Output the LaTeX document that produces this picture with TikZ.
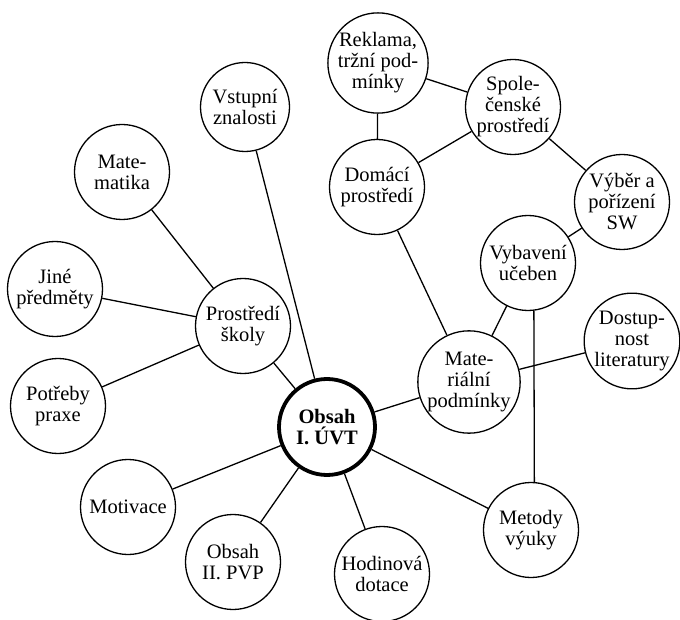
\documentclass[tikz,border=0pt]{standalone}
\usepackage{fontspec}
\setmainfont{Liberation Serif}
\begin{document}
\begin{tikzpicture}[x=1pt,y=-1pt,line width=1.3pt]
            \useasboundingbox (0,0) rectangle (680,620);
            \begin{scope}[every node/.style={circle,draw=black,line width=1.3pt,minimum size=95pt,inner sep=0pt,align=center,font=\fontsize{20.5}{21}\selectfont}]
            \node (obsah) at (327,427) [line width=3.8pt,minimum size=96pt,font=\fontsize{20.5}{21}\selectfont\bfseries] {Obsah\\I. ÚVT};
            \node (vstup) at (245,107) [minimum size=89pt] {Vstupní\\znalosti};
            \node (mat) at (122,172) {Mate-\\matika};
            \node (jine) at (55,289) {Jiné\\předměty};
            \node (skola) at (243,326) {Prostředí\\školy};
            \node (potreby) at (58,406) {Potřeby\\praxe};
            \node (motiv) at (128,507) {Motivace};
            \node (pvp) at (233,562) {Obsah\\II. PVP};
            \node (hod) at (382,574) {Hodinová\\dotace};
            \node (metody) at (531,530) {Metody\\výuky};
            \node (mater) at (469,382) {Mate-\\riální\\podmínky};
            \node (dost) at (632,341) {Dostup-\\nost\\literatury};
            \node (vybav) at (528,263) {Vybavení\\učeben};
            \node (vyber) at (622,202) {Výběr a\\pořízení\\SW};
            \node (spol) at (513,107) {Spole-\\čenské\\prostředí};
            \node (rekl) at (378,63) [minimum size=91pt] {Reklama,\\tržní pod-\\mínky};
            \node (doma) at (377,187) {Domácí\\prostředí};
            \end{scope}
            \begin{scope}[every edge/.style={draw=black,line width=1.3pt}]
            \draw  (obsah) edge (vstup);
            \draw  (obsah) edge (skola);
            \draw  (obsah) edge (motiv);
            \draw  (obsah) edge (pvp);
            \draw  (obsah) edge (hod);
            \draw  (obsah) edge (metody);
            \draw  (obsah) edge (mater);
            \draw  (skola) edge (mat);
            \draw  (skola) edge (jine);
            \draw  (skola) edge (potreby);
            \draw  (mater) edge (doma);
            \draw  (mater) edge (vybav);
            \draw  (mater) edge (dost);
            \draw  (vybav) edge (vyber);
            \draw  (vyber) edge (spol);
            \draw  (spol) edge (doma);
            \draw  (spol) edge (rekl);
            \draw  (rekl) edge (doma);
            \draw  (vybav.-83) edge (metody.86);
            \end{scope}
            \end{tikzpicture}
\end{document}
